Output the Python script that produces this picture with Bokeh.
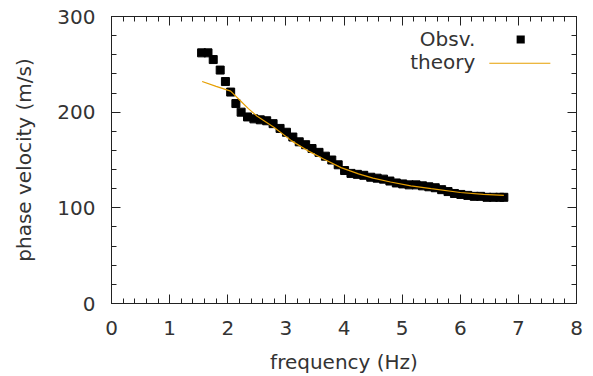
from bokeh.plotting import figure
from bokeh.models import (Range1d, LinearAxis, SingleIntervalTicker, Label, BoxAnnotation,
                          CustomJSTickFormatter)
from bokeh.embed import file_html
from bokeh.resources import INLINE

# Observed dispersion data
obs_freq = [1.55, 1.66, 1.75, 1.87, 1.96, 2.05, 2.14, 2.23, 2.34, 2.45, 2.56, 2.67,
            2.78, 2.90, 3.01, 3.12, 3.23, 3.34, 3.45, 3.57, 3.68, 3.79, 3.90, 4.01,
            4.12, 4.23, 4.34, 4.46, 4.57, 4.68, 4.79, 4.90, 5.01, 5.12, 5.24, 5.35,
            5.46, 5.57, 5.68, 5.79, 5.90, 6.01, 6.13, 6.24, 6.35, 6.46, 6.57, 6.68, 6.75]
obs_vel = [262, 262, 255, 244, 232, 221, 209, 200, 195, 193, 192, 191,
           188, 183, 179, 174, 169, 166, 162, 158, 154, 150, 145, 139,
           136, 135, 134, 132, 131, 130, 128, 126, 125, 124, 124, 123,
           122, 121, 119, 117, 115, 114, 113, 112, 112, 111, 111, 111, 111]

# Theoretical curve
th_freq = [1.56, 1.8, 2.05, 2.2, 2.35, 2.5, 2.8, 3.1, 3.4, 3.65, 3.95, 4.25,
           4.5, 4.8, 5.15, 5.5, 6.0, 6.4, 6.75]
th_vel = [232, 227, 222, 213, 204, 196, 184, 170, 159, 151, 142, 135.5,
          131, 127, 123, 120, 116, 114, 113]

x_ticks_interval = 1
y_ticks_interval = 100
x_title = "frequency (Hz)"
y_title = "phase velocity (m/s)"

FONT = "DejaVu Sans"
FS = "20px"
TXT = "#333333"
LINE = "#222222"

p = figure(width=585, height=376, output_backend="svg", toolbar_location=None,
           x_range=Range1d(0, 8), y_range=Range1d(0, 300),
           min_border_left=111, min_border_right=9, min_border_top=16, min_border_bottom=65,
           x_axis_location=None, y_axis_location=None)
p.grid.visible = False
p.outline_line_color = LINE
p.background_fill_color = "white"
p.border_fill_color = "white"

def style(ax, labels=True):
    ax.axis_line_color = LINE
    ax.major_tick_line_color = LINE
    ax.minor_tick_line_color = LINE
    ax.major_tick_in = 9
    ax.major_tick_out = 0
    ax.minor_tick_in = 5
    ax.minor_tick_out = 0
    ax.major_label_text_font = FONT
    ax.major_label_text_color = TXT
    ax.major_label_text_font_size = FS
    ax.axis_label_text_font = FONT
    ax.axis_label_text_color = TXT
    ax.axis_label_text_font_style = "normal"
    ax.axis_label_text_font_size = FS
    if not labels:
        ax.formatter = CustomJSTickFormatter(code="return ''")
        ax.major_label_standoff = 0

xb = LinearAxis(ticker=SingleIntervalTicker(interval=x_ticks_interval, num_minor_ticks=5),
                axis_label=x_title)
style(xb)
xb.major_label_standoff = 17
xb.axis_label_standoff = 12
p.add_layout(xb, "below")

yl = LinearAxis(ticker=SingleIntervalTicker(interval=y_ticks_interval, num_minor_ticks=5),
                axis_label=y_title)
style(yl)
yl.major_label_standoff = 16
yl.axis_label_standoff = 18
p.add_layout(yl, "left")

xt = LinearAxis(ticker=SingleIntervalTicker(interval=x_ticks_interval, num_minor_ticks=5))
style(xt, labels=False)
p.add_layout(xt, "above")

yr = LinearAxis(ticker=SingleIntervalTicker(interval=y_ticks_interval, num_minor_ticks=5))
style(yr, labels=False)
p.add_layout(yr, "right")

p.scatter(obs_freq, obs_vel, marker="square", size=8, color="black")
p.line(th_freq, th_vel, line_color="#e69f00", line_width=1.2)

# legend (manual, gnuplot style: text right-aligned, sample on the right)
p.add_layout(Label(x=6.26, y=277, text="Obsv.", text_align="right",
                   text_baseline="middle",
                   text_font=FONT, text_font_size=FS, text_color=TXT))
p.add_layout(Label(x=6.26, y=252.9, text="theory", text_align="right",
                   text_baseline="middle",
                   text_font=FONT, text_font_size=FS, text_color=TXT))
p.add_layout(BoxAnnotation(left=6.97, right=7.11, bottom=271.8, top=280.2,
                           fill_color="black", fill_alpha=1, line_color=None))
p.add_layout(BoxAnnotation(left=6.50, right=7.55, bottom=250.7, top=251.7,
                           fill_color="#e69f00", fill_alpha=1, line_color=None))

open("out.html", "w").write(file_html(p, INLINE))
